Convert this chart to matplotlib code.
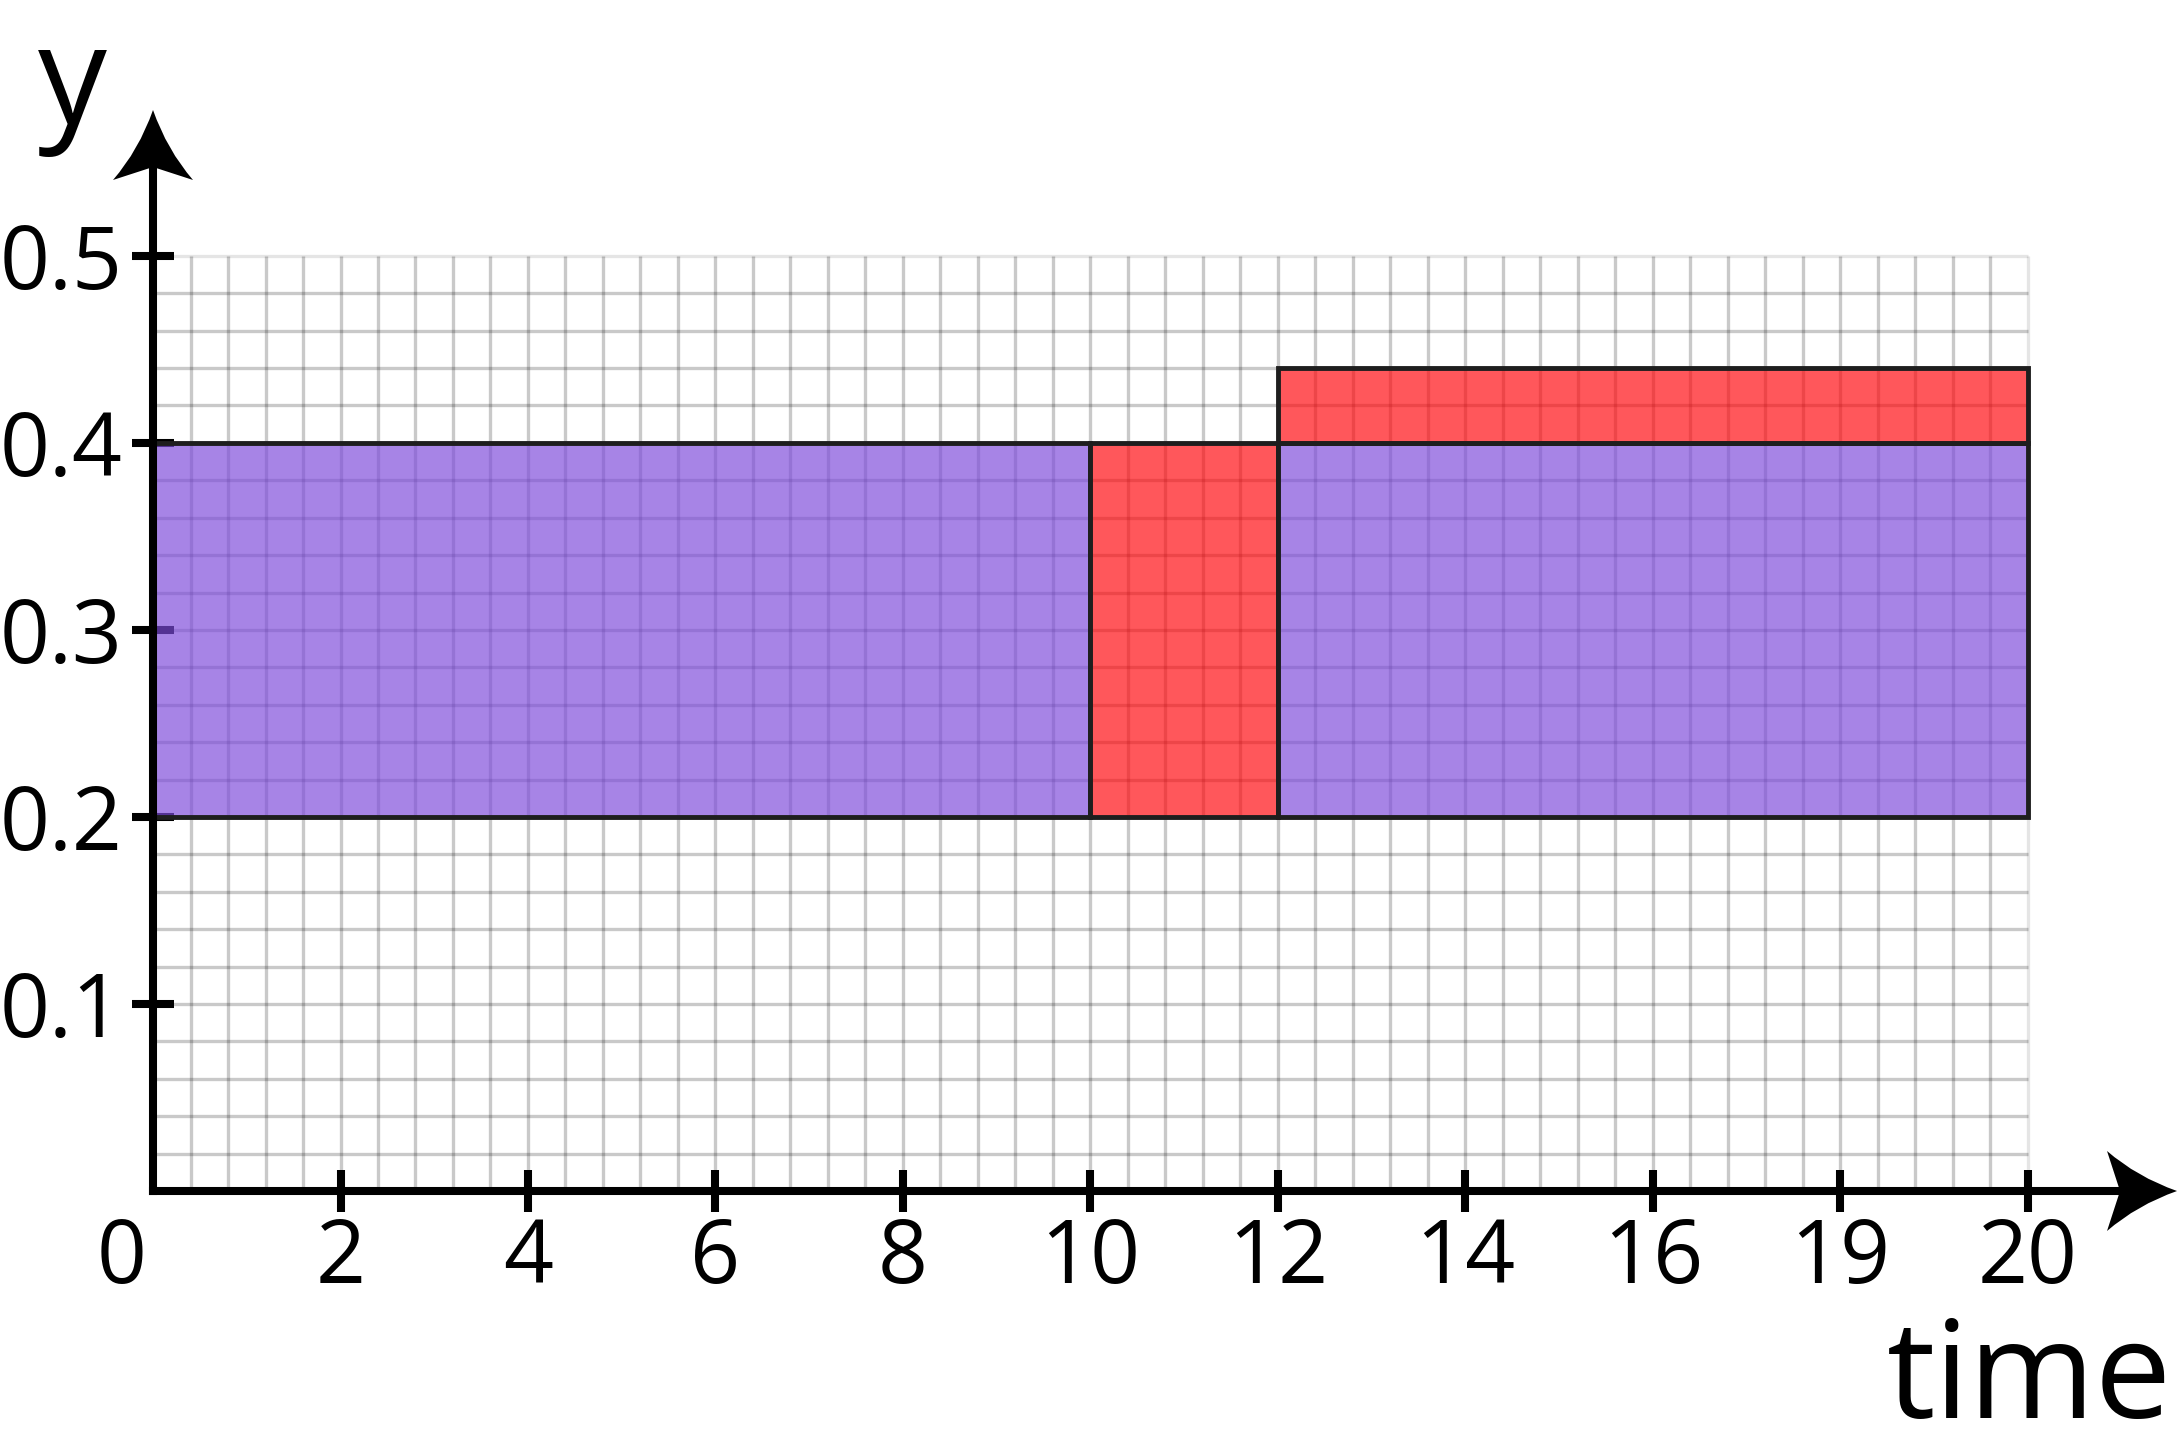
import numpy as np
import matplotlib
matplotlib.use('Agg')
import matplotlib.pyplot as plt
import matplotlib.transforms as mtransforms
from matplotlib.path import Path
from matplotlib.patches import PathPatch

plt.rcParams['font.family'] = ['Open Sans', 'DejaVu Sans']

# Blocks: start time, end time, lower y, upper y
block_start = [0, 10, 12, 12]
block_end = [10, 12, 20, 20]
block_low = [0.2, 0.2, 0.2, 0.4]
block_high = [0.4, 0.4, 0.4, 0.44]
block_kind = ['purple', 'red', 'purple', 'red']

# Axis ticks (the original labels the 18 tick as "19")
x_ticks = [0, 2, 4, 6, 8, 10, 12, 14, 16, 18, 20]
x_labels = ['0', '2', '4', '6', '8', '10', '12', '14', '16', '19', '20']
y_ticks = [0.1, 0.2, 0.3, 0.4, 0.5]
y_labels = ['0.1', '0.2', '0.3', '0.4', '0.5']

colors = {'purple': (0.49, 0.29, 0.86, 0.68),
          'red': (1.0, 0.03, 0.05, 0.68)}

fig = plt.figure(figsize=(21.78, 14.55), dpi=100)
ax = fig.add_axes([0.07025, 0.18144, 0.9293, 0.74296])
ax.set_xlim(0, 21.59)
ax.set_ylim(0, 0.578)

## grid paper (stops at 20 and 0.5)
gx = np.arange(0.4, 19.7, 0.4)
gy = np.arange(0.02, 0.49, 0.02)
ax.vlines(gx, 0, 0.5, colors='k', alpha=0.21, lw=2.4, zorder=2)
ax.hlines(gy, 0, 20, colors='k', alpha=0.21, lw=2.4, zorder=2)
ax.vlines([20], 0, 0.5, colors='k', alpha=0.1, lw=2.4, zorder=2)
ax.hlines([0.5], 0, 20, colors='k', alpha=0.1, lw=2.4, zorder=2)

## blocks
for s, e, lo, hi, k in zip(block_start, block_end, block_low, block_high, block_kind):
    ax.bar(s, hi - lo, width=e - s, bottom=lo, align='edge',
           color=colors[k], edgecolor='#1e1e1e', linewidth=3.5, zorder=3)

## axes lines
for side in ['top', 'right']:
    ax.spines[side].set_visible(False)
for side in ['left', 'bottom']:
    ax.spines[side].set_linewidth(5.8)
    ax.spines[side].set_capstyle('projecting')
    ax.spines[side].set_zorder(5)
ax.spines['left'].set_bounds(0, 0.55)
ax.spines['bottom'].set_bounds(0, 21.0)

ax.set_xticks(x_ticks)
ax.set_xticklabels(x_labels)
ax.set_yticks(y_ticks)
ax.set_yticklabels(y_labels)
ax.tick_params(axis='both', direction='inout', length=30, width=5.8,
               labelsize=63, colors='k')
ax.tick_params(axis='x', pad=3)
ax.tick_params(axis='y', pad=7)
ax.xaxis.set_zorder(2.5)
ax.yaxis.set_zorder(2.5)

# origin label sits left of the corner, no tick mark there
t0 = ax.xaxis.get_major_ticks()[0]
t0.tick1line.set_visible(False)
t0.label1.set_transform(t0.label1.get_transform() +
                        mtransforms.ScaledTranslation(-0.31, 0, fig.dpi_scale_trans))


def arrow_head(x, y, angle):
    # stealth style head, pixel offsets from the tip, pointing up
    verts = [(0, 0), (-14, -40), (-40, -70), (0, -57), (40, -70), (14, -40), (0, 0), (0, 0)]
    codes = [Path.MOVETO, Path.CURVE3, Path.CURVE3, Path.LINETO, Path.LINETO,
             Path.CURVE3, Path.CURVE3, Path.CLOSEPOLY]
    tr = mtransforms.Affine2D().rotate_deg(angle) + \
        mtransforms.ScaledTranslation(x, y, ax.transData)
    p = PathPatch(Path(verts, codes), transform=tr, facecolor='k',
                  edgecolor='none', clip_on=False, zorder=6)
    ax.add_patch(p)


arrow_head(0, 0.578, 0)
arrow_head(21.59, 0, -90)

fig.text(38 / 2178, 1 - 124 / 1455, 'y', fontsize=99, ha='left', va='baseline')
fig.text(2172 / 2178, 1 - 1418 / 1455, 'time', fontsize=98, ha='right', va='baseline')

fig.savefig('out.png', dpi=100)
